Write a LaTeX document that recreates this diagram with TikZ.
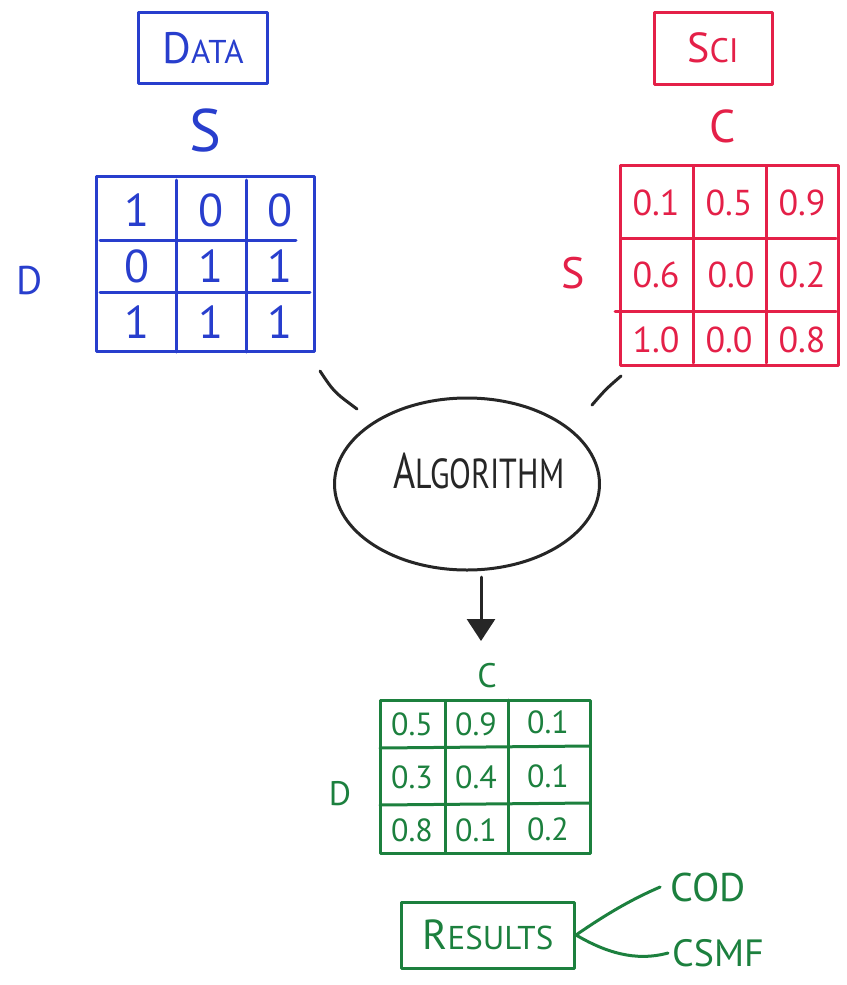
\documentclass[tikz,border=0pt]{standalone}
\usepackage{fontspec}
\setmainfont{PT Sans}
\usepackage{graphicx}
\usetikzlibrary{shapes.geometric,arrows.meta}
\definecolor{inkblue}{RGB}{40,62,205}
\definecolor{inkred}{RGB}{228,32,72}
\definecolor{inkgreen}{RGB}{28,128,62}
\definecolor{inkblack}{RGB}{38,38,38}
\newcommand{\fsz}[1]{\fontsize{#1}{#1}\selectfont}
\begin{document}
\begin{tikzpicture}[x=1pt,y=-1pt,
  hand/.style={line width=3pt,line cap=round,line join=round},
  framebox/.style={hand,draw,rectangle,inner sep=0pt},
  lbl/.style={inner sep=0pt},
  bcell/.style={lbl,text=inkblue,font=\fsz{46}},
  rcell/.style={lbl,text=inkred,font=\fsz{36}},
  gcell/.style={lbl,text=inkgreen,font=\fsz{32}},
]
\useasboundingbox (0,0) rectangle (846,985);

% ---------- blue: DATA ----------
\node[framebox,draw=inkblue,text=inkblue,minimum width=129pt,minimum height=71pt] (data) at (203,48)
  {{\fsz{44}D}{\fsz{33}ATA}};
\node[lbl,text=inkblue,font=\fsz{60}] (sB) at (205,130) {S};
\node[lbl,text=inkblue,font=\fsz{40}] (dB) at (30,281) {D};
\node[framebox,draw=inkblue,minimum width=218pt,minimum height=175pt] (bm) at (205,264) {};
\draw[hand,inkblue] (100,240) -- (296,240);
\draw[hand,inkblue] (100,292) -- (310,292);
\draw[hand,inkblue] (176,180) -- (176,352);
\draw[hand,inkblue] (246,180) -- (246,352);
\node[bcell] (b11) at (137,210) {1};
\node[bcell] (b12) at (211,210) {0};
\node[bcell] (b13) at (280,210) {0};
\node[bcell] (b21) at (137,266) {0};
\node[bcell] (b22) at (211,266) {1};
\node[bcell] (b23) at (280,266) {1};
\node[bcell] (b31) at (137,322) {1};
\node[bcell] (b32) at (211,322) {1};
\node[bcell] (b33) at (280,322) {1};

% ---------- red: SCI ----------
\node[framebox,draw=inkred,text=inkred,minimum width=118pt,minimum height=72pt] (sci) at (713,48)
  {{\fsz{42}S}{\fsz{34}CI}};
\node[lbl,text=inkred,font=\fsz{46}] (cR) at (723,126) {C};
\node[lbl,text=inkred,font=\fsz{44}] (sR) at (573,273) {S};
\node[framebox,draw=inkred,minimum width=218pt,minimum height=200pt] (rm) at (729,265) {};
\draw[hand,inkred] (622,238) -- (836,238);
\draw[hand,inkred] (615,311) -- (836,311);
\draw[hand,inkred] (693,167) -- (693,363);
\draw[hand,inkred] (766,167) -- (766,363);
\node[rcell] (r11) at (656,203) {0.1};
\node[rcell] (r12) at (729,203) {0.5};
\node[rcell] (r13) at (802,203) {0.9};
\node[rcell] (r21) at (656,275) {0.6};
\node[rcell] (r22) at (731,275) {0.0};
\node[rcell] (r23) at (802,275) {0.2};
\node[rcell] (r31) at (656,340) {1.0};
\node[rcell] (r32) at (729,340) {0.0};
\node[rcell] (r33) at (802,340) {0.8};

% ---------- connectors to algorithm ----------
\coordinate (bl1) at (320,371);
\coordinate (bl2) at (357,409);
\coordinate (rl1) at (592,405);
\coordinate (rl2) at (621,376);
\draw[hand,inkblack] (bl1) .. controls (334,392) .. (bl2);
\draw[hand,inkblack] (rl1) .. controls (606,389) .. (rl2);

% ---------- algorithm ----------
\node[ellipse,hand,draw=inkblack,minimum width=265pt,minimum height=172pt,inner sep=0pt] (alg) at (467,484) {};
\node[lbl,text=inkblack] (algt) at (479,471)
  {\scalebox{0.76}[1]{{\fsz{50}A}{\fsz{42}LGORITHM}}};
\coordinate (ar1) at (481,577);
\coordinate (ar2) at (481,641);
\draw[hand,inkblack,-{Triangle[length=22pt,width=28pt]}] (ar1) -- (ar2);

% ---------- green: result matrix ----------
\node[lbl,text=inkgreen,font=\fsz{34}] (cG) at (487,676) {C};
\node[lbl,text=inkgreen,font=\fsz{34}] (dG) at (340,794) {D};
\node[framebox,draw=inkgreen,minimum width=210pt,minimum height=153pt] (gm) at (485,777) {};
\draw[hand,inkgreen] (380,748) -- (590,746);
\draw[hand,inkgreen] (380,805) -- (590,803);
\draw[hand,inkgreen] (445,702) -- (445,852);
\draw[hand,inkgreen] (508,700) -- (508,852);
\node[gcell] (g11) at (412,724) {0.5};
\node[gcell] (g12) at (476,724) {0.9};
\node[gcell] (g13) at (548,722) {0.1};
\node[gcell] (g21) at (412,777) {0.3};
\node[gcell] (g22) at (476,777) {0.4};
\node[gcell] (g23) at (548,776) {0.1};
\node[gcell] (g31) at (412,830) {0.8};
\node[gcell] (g32) at (476,830) {0.1};
\node[gcell] (g33) at (548,829) {0.2};

% ---------- results ----------
\node[framebox,draw=inkgreen,text=inkgreen,minimum width=173pt,minimum height=66pt] (res) at (488,935)
  {{\fsz{42}R}{\fsz{33}ESULTS}};
\node[lbl,text=inkgreen,font=\fsz{40}] (cod) at (708,887) {COD};
\node[lbl,text=inkgreen,font=\fsz{38}] (csmf) at (718,953) {CSMF};
\draw[hand,inkgreen] (res.east) .. controls (605,915) and (630,900) .. ([xshift=-10pt]cod.west);
\draw[hand,inkgreen] (res.east) .. controls (605,952) and (635,962) .. ([xshift=-4pt]csmf.west);
\end{tikzpicture}
\end{document}
